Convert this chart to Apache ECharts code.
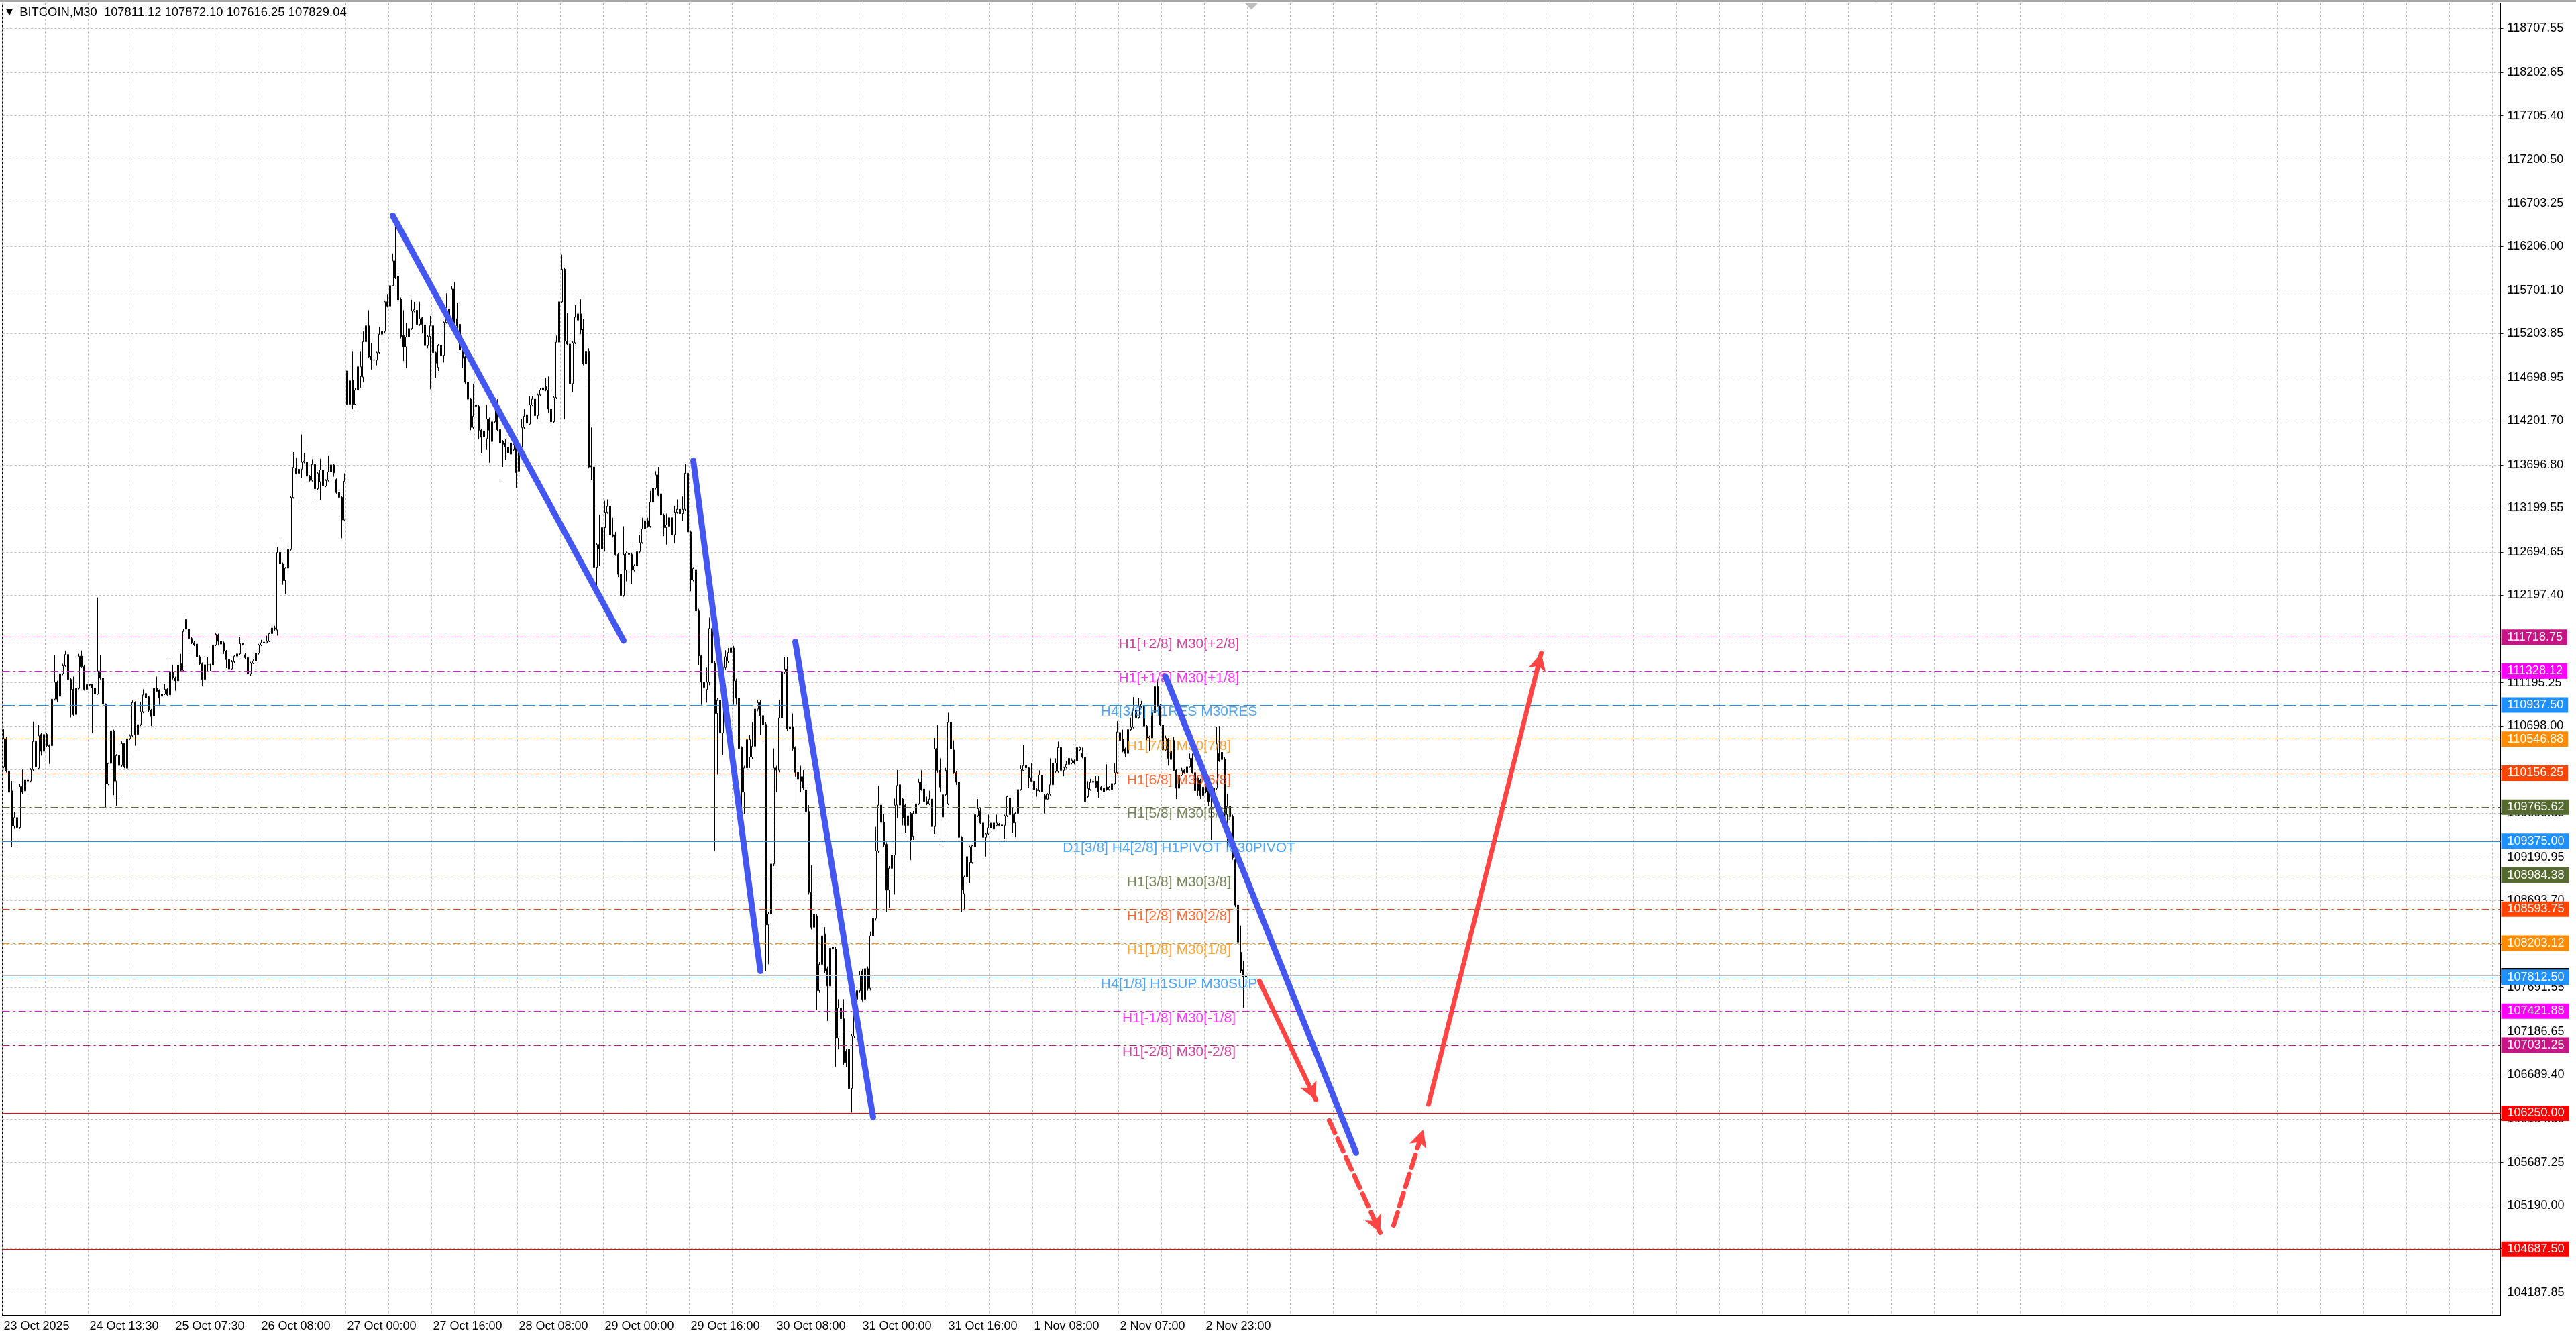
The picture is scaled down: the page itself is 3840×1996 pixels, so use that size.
<!DOCTYPE html>
<html>
<head>
<meta charset="utf-8">
<title>BITCOIN,M30</title>
<script src="https://cdn.jsdelivr.net/npm/echarts@6/dist/echarts.min.js"></script>
<style>
html,body{margin:0;padding:0;background:#fff;}
#chart{width:3840px;height:1996px;}
</style>
</head>
<body>
<div id="chart"></div>
<script>
// time axis labels, one every 32 bars
var timeLabels = ['23 Oct 2025','24 Oct 13:30','25 Oct 07:30','26 Oct 08:00','27 Oct 00:00','27 Oct 16:00',
    '28 Oct 08:00','29 Oct 00:00','29 Oct 16:00','30 Oct 08:00','31 Oct 00:00','31 Oct 16:00',
    '1 Nov 08:00','2 Nov 07:00','2 Nov 23:00'];

// price scale labels
var yTicks = [118707.55,118202.65,117705.40,117200.50,116703.25,116206.00,115701.10,115203.85,
    114698.95,114201.70,113696.80,113199.55,112694.65,112197.40,111700.15,111195.25,110698.00,
    110193.10,109695.85,109190.95,108693.70,108196.45,107691.55,107186.65,106689.40,106184.30,
    105687.25,105190.00,104692.90,104187.85];

// M30 bars: [open, close, low, high]
var candles = [
[110228,110552,110212,110666],[110552,110180,110163,110568],[110180,109937,109920,110196],[109953,109548,109305,110066],
[109548,109645,109515,109710],[109645,109531,109337,109693],[109531,110001,109515,110034],[110001,109937,109920,110196],
[109953,110082,109937,110115],[110082,110066,109888,110115],[110066,110196,110050,110212],[110196,110520,110180,110747],
[110520,110228,110212,110552],[110212,110585,110196,110714],[110601,110406,110358,110617],[110406,110601,110325,110876],
[110601,110471,110455,110617],[110471,110462,110261,110487],[110471,111006,110455,111055],[111006,111201,110990,111508],
[111201,111006,110974,111217],[111038,111298,111022,111330],[111298,111388,111282,111411],[111388,111518,111379,111563],
[111518,111233,111103,111557],[111233,111119,110795,111249],[111119,110828,110812,111265],[110828,111129,110698,111152],
[111129,111499,111119,111525],[111499,111379,111362,111563],[111379,111119,111103,111395],[111119,111175,111103,111201],
[111175,111168,111152,111184],[111175,111136,110617,111184],[111136,111064,111055,111152],[111064,111330,111055,112173],
[111330,111249,111233,111515],[111249,110948,110941,111265],[110948,110034,109758,110957],[110034,110267,110018,110277],
[110267,110643,110261,110682],[110643,110066,109904,110656],[110066,110358,109774,110374],[110358,110244,109904,110374],
[110244,110497,110228,110520],[110497,110228,110212,110504],[110212,110552,110131,110650],[110552,110585,110536,110601],
[110585,110967,110568,110990],[110967,110601,110471,110980],[110601,110714,110439,110731],[110714,110860,110698,110974],
[110860,111055,110844,111119],[111071,111022,111006,111152],[111032,110876,110860,111045],[110876,110805,110698,110893],
[110812,111129,110795,111142],[111129,111097,111087,111265],[111110,111022,110941,111119],[111038,111064,111022,111077],
[111064,111119,111055,111184],[111119,111055,111038,111136],[111055,111314,111045,111476],[111314,111249,111233,111395],
[111249,111217,111103,111265],[111217,111395,111207,111411],[111411,111337,111324,111525],[111337,111784,111330,111816],
[111920,111810,111719,111962],[111810,111703,111541,111823],[111703,111654,111638,111719],[111654,111628,111615,111670],
[111638,111492,111427,111654],[111492,111411,111395,111508],[111411,111233,111152,111427],[111233,111401,111226,111492],
[111401,111395,111330,111492],[111395,111401,111330,111411],[111395,111628,111382,111638],[111628,111751,111615,111768],
[111745,111670,111622,111758],[111670,111638,111628,111687],[111654,111557,111525,111667],[111557,111460,111362,111570],
[111460,111353,111346,111476],[111353,111434,111343,111453],[111434,111499,111421,111508],[111499,111525,111486,111541],
[111525,111644,111508,111719],[111644,111635,111622,111654],[111515,111482,111466,111531],[111482,111298,111282,111499],
[111298,111418,111272,111434],[111418,111443,111408,111460],[111443,111531,111369,111544],[111531,111628,111518,111641],
[111628,111654,111615,111687],[111654,111661,111644,111670],[111654,111670,111644,111735],[111670,111758,111661,111771],
[111758,111823,111748,111871],[111823,111810,111794,111849],[111800,112691,111735,112756],[112691,112562,112545,112821],
[112562,112367,112319,112575],[112367,112510,112212,112523],[112510,112724,112497,112789],[112724,113320,112711,113340],
[113320,113670,113307,113842],[113654,113599,113586,113777],[113599,113647,113275,113664],[113647,113728,113550,114046],
[113728,113741,113715,113826],[113728,113566,113553,113907],[113566,113518,113505,113579],[113518,113702,113505,113761],
[113702,113421,113291,113715],[113421,113599,113408,113612],[113502,113638,113291,113767],[113638,113453,113440,113651],
[113453,113518,113440,113531],[113518,113615,113505,113800],[113615,113696,113602,113735],[113696,113605,113560,113709],
[113528,113378,113365,113540],[113378,113323,113310,113391],[113323,113064,112853,113336],[113064,113508,113051,113599],
[114775,114392,114207,115050],[114392,114661,114256,114791],[114671,114392,114337,115002],[114392,114554,114385,114580],
[114554,114823,114321,115002],[114710,114823,114580,115002],[114703,115109,114645,115228],[115109,115293,115098,115391],
[115293,114937,114920,115472],[114943,114904,114791,115098],[114904,114898,114807,114920],[114898,114985,114839,115002],
[114985,115196,114969,115277],[115196,115228,115147,115277],[115228,115569,115212,115585],[115569,115520,115504,115650],
[115520,115754,115310,115796],[115754,116039,115747,116120],[116039,115845,115829,116428],[115861,115592,115569,115916],
[115601,115170,115147,115618],[115180,115050,114888,115472],[115050,115164,114807,115326],[115164,115261,115083,115277],
[115261,115462,115245,115592],[115462,115478,115449,115569],[115472,115310,115131,115569],[115310,115375,115293,115569],
[115384,115310,115212,115397],[115303,115066,114985,115319],[115066,115170,115034,115189],[115170,115293,114564,115407],
[115293,114985,114499,115407],[114985,114865,114694,115002],[114814,115066,114775,115083],[115066,114953,114937,115228],
[114953,115332,114872,115342],[115332,115504,115319,115666],[115488,115358,115342,115585],[115358,115715,115342,115747],
[115715,115310,115293,115796],[115375,115293,115196,115553],[115310,115018,114904,115326],[115018,114920,114807,115034],
[114937,114645,114629,114953],[114645,114450,114353,114661],[114450,114126,114094,114467],[114126,114256,114110,114629],
[114369,114385,114240,114619],[114369,114094,113996,114385],[114094,114013,113834,114110],[114013,114087,113964,114223],
[113996,114223,113867,114385],[114223,114094,113721,114240],[113964,114191,113948,114223],[114191,114353,114175,114450],
[114353,114100,114087,114450],[114100,113948,113526,114110],[113970,113932,113672,113980],[113948,113899,113753,113996],
[113899,113834,113753,113915],[113818,113948,113786,113996],[113867,113925,113851,113948],[113948,113607,113429,113964],
[113624,113899,113607,113915],[113899,114126,113883,114223],[114126,114256,114110,114337],[114272,114175,114126,114353],
[114165,114385,114152,114483],[114385,114450,114372,114483],[114450,114262,114249,114661],[114262,114499,114223,114515],
[114499,114554,114483,114580],[114554,114580,114541,114612],[114596,114554,114541,114694],[114554,114337,114288,114710],
[114337,114191,114126,114353],[114191,114467,114175,114483],[114467,115105,114450,115180],[115105,115569,114872,115585],
[115569,115942,115553,116110],[115942,115115,114223,115958],[115115,115083,115066,115439],[115083,114629,114499,115098],
[114629,115098,114531,115115],[115098,115391,115083,115537],[115358,115430,115342,115618],[115430,115245,115196,115601],
[115254,114856,114839,115375],[114856,115002,114596,115034],[115002,113672,113656,115034],[113688,113672,113526,114126],
[113672,112521,112262,113688],[112521,112781,112213,112797],[112781,112732,112537,113121],[112732,112975,112716,112991],
[112975,113153,112700,113283],[113153,113218,113137,113299],[113218,112894,112878,113251],[112894,112878,112862,113089],
[112894,112667,112651,112926],[112667,112440,112408,112683],[112440,112197,112051,112456],[112197,112667,112181,112991],
[112489,112683,112359,112700],[112667,112683,112651,112781],[112667,112489,112327,112683],[112489,112537,112473,112554],
[112537,112700,112521,112781],[112700,112803,112683,112894],[112803,112959,112790,113089],[112959,113056,112943,113332],
[113056,112991,112975,113089],[112991,113267,112975,113397],[113267,113429,113251,113559],[113429,113581,113413,113624],
[113581,113348,113332,113672],[113364,113121,113105,113380],[113121,112975,112878,113137],[112975,113007,112781,113137],
[112991,113089,112959,113105],[113089,112894,112732,113105],[112894,113153,112797,113218],[113153,113186,113137,113299],
[113186,113137,113121,113202],[113137,113186,113056,113332],[113186,113601,113170,113705],[113601,112926,112910,113705],
[112926,112375,112246,112943],[112375,112505,112359,112521],[112494,112018,111993,112519],[112018,111502,111392,112043],
[111502,111201,110941,111517],[111201,111141,111091,111442],[111116,111201,110966,111367],[111201,111818,111166,111943],
[111818,111417,111141,111943],[111417,110841,109263,111442],[110841,110991,110140,111016],[110991,110616,110140,111016],
[110616,111367,110365,111392],[111367,111492,111342,111567],[111442,111542,111417,111592],[111542,111592,111517,111818],
[111592,111216,110941,111617],[111216,111016,110941,111241],[111016,110440,110415,111091],[110450,109939,109739,110465],
[109939,110215,109689,110240],[110215,110540,110190,110591],[110340,110540,110215,110591],[110340,110465,110315,110741],
[110465,110891,110440,110991],[110891,110966,110866,110991],[110966,110816,110591,110991],[110816,110716,110490,110841],
[110716,108412,107886,110741],[108412,108537,107961,108562],[108537,109113,108361,109138],[109113,110215,109088,110440],
[110215,110190,109939,110240],[110190,110791,110165,110991],[110791,111317,110766,111642],[111317,111352,111292,111492],
[111352,110666,110641,111492],[110691,110666,110641,110716],[110691,110440,110415,110841],[110450,110165,110115,110465],
[110165,110090,109839,110240],[110115,110065,109939,110240],[110115,109990,109965,110190],[109965,109714,109689,109990],
[109714,108787,108762,109789],[108787,108386,108361,109098],[108537,108386,108236,108562],[108512,107660,107435,108537],
[107660,107961,107635,107986],[107961,108286,107836,108386],[108311,107886,107861,108386],[107911,107711,107310,107936],
[107711,108146,107560,108236],[108136,108161,108111,108261],[108136,107110,106784,108161],[107110,107460,106984,107560],
[107460,107335,107310,107560],[107335,106834,106809,107560],[106959,106834,106784,106984],[106984,106534,106258,107009],
[106534,107135,106258,107160],[107135,107560,107110,107711],[107560,107660,107410,107786],[107660,107836,107635,107886],
[107886,107560,107535,107911],[107560,107911,107410,107936],[107911,107685,107660,107936],[107685,108286,107660,108336],
[108286,108487,108236,108537],[108487,109263,108462,109539],[109263,109789,109238,110014],[109789,109589,109113,109814],
[109589,109338,109313,109689],[109338,108812,108562,109363],[108812,109063,108612,109088],[109063,109213,109038,109313],
[109213,109789,108762,109864],[109789,110014,109639,110190],[110023,109789,109473,110092],[109858,109644,109556,109872],
[109789,109556,109473,109803],[109556,109666,109542,109803],[109693,109390,109156,109707],[109432,109693,109390,109721],
[109693,109803,109679,109899],[109803,110051,109789,110092],[110051,109968,109955,110188],[109974,109831,109776,109982],
[109831,109803,109789,109886],[109803,109858,109789,109955],[109858,109542,109528,109872],[109542,110436,109459,110560],
[110441,110188,110161,110711],[110188,109996,109941,110326],[109652,109908,109335,110257],[109908,110188,109899,110216],
[109803,110739,109789,110850],[110739,110436,110188,111110],[110422,110161,110147,110532],[110161,110051,110020,110175],
[110051,109418,109390,110133],[109418,108813,108565,109432],[108771,108964,108579,108978],[108964,109198,108950,109308],
[109129,109308,108895,109322],[109129,109322,109115,109335],[109308,109679,109294,109858],[109666,109748,109652,109858],
[109721,109583,109569,109762],[109583,109418,109363,109721],[109418,109459,109198,109473],[109459,109528,109445,109679],
[109528,109583,109514,109666],[109514,109583,109500,109597],[109556,109583,109542,109679],[109569,109556,109542,109583],
[109550,109561,109349,109569],[109556,109666,109404,109679],[109666,109886,109652,109899],[109872,109679,109666,109996],
[109679,109583,109473,109762],[109583,109693,109418,109707],[109693,109968,109679,110051],[109968,110202,109955,110243],
[110188,110243,110175,110477],[110243,110216,110202,110353],[110216,110106,109982,110230],[110106,110065,110051,110271],
[110065,109968,109955,110120],[109968,109955,109886,109982],[109955,110133,109941,110188],[110133,109941,109927,110188],
[109899,109858,109693,109913],[109858,109913,109844,109927],[109913,110023,109899,110326],[110023,110271,110010,110285],
[110175,110271,110161,110326],[110175,110450,110161,110518],[110450,110188,110175,110477],[110188,110221,110120,110230],
[110221,110257,110210,110298],[110257,110326,110243,110353],[110271,110304,110257,110326],[110298,110271,110257,110312],
[110298,110450,110285,110491],[110422,110450,110408,110463],[110381,110340,110326,110450],[110340,109831,109817,110395],
[109886,109982,109872,110065],[109968,110051,109955,110092],[110051,110065,110037,110078],[110065,109996,109982,110120],
[110065,109941,109872,110120],[109996,109968,109955,110010],[109941,109982,109858,109996],[109996,109968,109955,110257],
[109968,109996,109955,110010],[109968,110037,109955,110078],[110037,110161,110023,110271],[110161,110629,110147,110752],
[110623,110532,110518,110684],[110546,110408,110395,110656],[110436,110381,110340,110450],[110381,110656,110367,110670],
[110656,110684,110642,110794],[110684,110876,110670,111028],[110876,110794,110780,110986],[110794,110931,110780,111014],
[110917,110945,110904,110986],[110931,110697,110656,110945],[110697,110560,110532,110711],[110560,110574,110408,110587],
[110560,110849,110546,110890],[110849,111151,110835,111206],[111151,110931,110917,111234],[110931,110711,110697,110945],
[110711,110422,110188,110725],[110422,110560,110408,110587],[110546,110326,110243,110560],[110312,110408,110298,110532],
[110532,110188,110175,110574],[110188,109982,109858,110202],[109982,110133,109776,110147],[110133,110188,110120,110216],
[110188,110161,110147,110202],[110161,110230,110147,110271],[110230,110326,110216,110381],[110326,110161,110147,110381],
[110161,109955,109941,110298],[110106,109955,109899,110120],[110078,109899,109858,110092],[109899,109996,109886,110010],
[109996,109941,109927,110010],[109955,109831,109776,109968],[109982,109941,109390,109996],[109886,109982,109776,109996],
[109982,110491,109968,110684],[110381,110298,110285,110697],[110395,110312,110298,110697],[110316,109679,109632,110340],
[109679,109773,109302,109915],[109773,109655,109600,109800],[109655,109184,109160,109679],[109160,108641,108617,109184],
[108641,108216,108193,109056],[108098,107886,107863,108405],[107896,107816,107462,108004],[107811.12,107829.04,107616.25,107872.10]
];

// Murrey / pivot levels drawn as horizontal lines
var levelValues = [111718.75,111328.12,110937.50,110546.88,110156.25,109765.62,109375.00,
    108984.38,108593.75,108203.12,107812.50,107421.88,107031.25];
var levelNames = ['H1[+2/8] M30[+2/8]','H1[+1/8] M30[+1/8]','H4[3/8] H1RES M30RES','H1[7/8] M30[7/8]',
    'H1[6/8] M30[6/8]','H1[5/8] M30[5/8]','D1[3/8] H4[2/8] H1PIVOT M30PIVOT','H1[3/8] M30[3/8]',
    'H1[2/8] M30[2/8]','H1[1/8] M30[1/8]','H4[1/8] H1SUP M30SUP','H1[-1/8] M30[-1/8]','H1[-2/8] M30[-2/8]'];
var redLevels = [106250.00, 104687.50];

// drawn objects, as [bar index, price] end points
var trendLines = [
    [[145, 116558], [231, 111678]],
    [[256.5, 113746], [281.5, 107884]],
    [[295.25, 111666], [324.25, 106204]],
    [[432.5, 111265], [503.5, 105796]]
];
var arrowLines = [
    [[467.75, 107768], [488.9, 106404]],
    [[493.5, 106166], [513, 104879]],
    [[517.5, 104964], [529.1, 106062]],
    [[531.4, 106354], [572.5, 111535]]
];
var arrowDashed = [false, true, true, false];
var shiftBar = 464.5;    // chart shift marker on the top edge

// styles
var levelColors = ['#C71585','#FF00FF','#1E90FF','#FF8C00','#FF4500','#556B2F','#1E90FF',
    '#556B2F','#FF4500','#FF8C00','#1E90FF','#FF00FF','#C71585'];
var DASHDOT = [11, 5, 3, 5], LONGDASH = [19, 6];
var levelDash = [DASHDOT, DASHDOT, LONGDASH, DASHDOT, DASHDOT, DASHDOT, 'solid',
    DASHDOT, DASHDOT, DASHDOT, LONGDASH, DASHDOT, DASHDOT];
var slotCount = 931;     // bar slots across the plot
var labelStep = 32;      // bars between time labels
var textIndex = 438;     // bar where the level names are centred
var Y_MIN = 103931, Y_MAX = 119000;
var FONT = '"Liberation Sans", Arial, sans-serif';

var chart = echarts.init(document.getElementById('chart'));

var cats = [];
for (var i = 0; i < slotCount; i++) cats.push(String(i));

var last = candles[candles.length - 1];
function f2(v){ return Number(v).toFixed(2); }

function badge(value, bg){
    return {
        show: true, position: 'end', distance: 1,
        formatter: f2(value),
        color: '#fff', backgroundColor: bg,
        fontSize: 18, fontFamily: FONT, lineHeight: 18,
        padding: [3, 7, 2, 9]
    };
}

// level lines with price badges on the axis
var levelMarks = [{
    yAxis: last[1],
    lineStyle: {color: '#C0C0C0', type: 'solid', width: 1},
    label: badge(last[1], '#000')
}];
levelValues.forEach(function(v, k){
    levelMarks.push({
        yAxis: v,
        lineStyle: {color: levelColors[k], type: levelDash[k], width: 1},
        label: badge(v, levelColors[k])
    });
});
redLevels.forEach(function(v){
    levelMarks.push({
        yAxis: v,
        lineStyle: {color: '#FF0000', type: 'solid', width: 1},
        label: badge(v, '#FF0000')
    });
});

var series = [];

series.push({
    type: 'candlestick',
    data: candles,
    barWidth: 2,
    z: 2,
    itemStyle: {color: '#fff', color0: '#000', borderColor: '#000', borderColor0: '#000', borderWidth: 1},
    markLine: {
        silent: true, symbol: 'none', z: 1, animation: false,
        label: {show: false},
        lineStyle: {color: '#C0C0C0', type: [3, 3], width: 1},
        data: yTicks.map(function(v){ return {yAxis: v}; })
    },
    markPoint: {
        silent: true, animation: false,
        symbol: 'triangle', symbolRotate: 180, symbolSize: [20, 10], symbolOffset: [0, 5],
        itemStyle: {color: '#BEBEBE'},
        label: {show: false},
        data: [{coord: [shiftBar, Y_MAX]}]
    }
});

// level names in the chart and the level lines
series.push({
    type: 'scatter',
    symbolSize: 0,
    silent: true,
    z: 4,
    data: levelValues.map(function(v, k){
        return {value: [textIndex, v], label: {color: levelColors[k]}};
    }),
    label: {
        show: true, position: 'bottom', distance: 0,
        fontSize: 21, fontFamily: FONT,
        formatter: function(p){ return levelNames[p.dataIndex]; }
    },
    markLine: {
        silent: true, symbol: 'none', z: 3, animation: false,
        data: levelMarks
    }
});

trendLines.forEach(function(seg){
    series.push({
        type: 'line', data: seg, symbol: 'none', silent: true, z: 6,
        lineStyle: {color: '#4457F0', width: 9, cap: 'round'}
    });
});

arrowLines.forEach(function(seg, k){
    series.push({
        type: 'line', data: seg, symbol: 'none', silent: true, z: 6,
        lineStyle: {opacity: 0},
        markLine: {
            silent: true, z: 6, animation: false,
            symbol: ['none', 'arrow'], symbolSize: [20, 26],
            label: {show: false},
            lineStyle: {color: '#FF4444', width: 7, type: arrowDashed[k] ? [20, 10] : 'solid', cap: 'round'},
            data: [[{coord: seg[0]}, {coord: seg[1]}]]
        }
    });
});

chart.setOption({
    animation: false,
    backgroundColor: '#fff',
    graphic: [{
        type: 'rect', silent: true, z: 0,
        shape: {x: 0, y: 0, width: 3840, height: 3},
        style: {fill: '#A8A8A8'}
    }],
    title: {
        text: '{t|▼}  BITCOIN,M30  ' + [last[0], last[3], last[2], last[1]].map(f2).join(' '),
        left: 9, top: 10, padding: 0,
        textStyle: {
            fontSize: 18.4, fontWeight: 'normal', fontFamily: FONT, color: '#000',
            rich: {t: {fontSize: 13, color: '#000', fontFamily: 'DejaVu Sans'}}
        }
    },
    grid: {left: 3.5, right: 112.5, top: 4.5, bottom: 35.5, show: true, borderColor: '#000', borderWidth: 1, backgroundColor: '#fff'},
    xAxis: {
        type: 'category',
        data: cats,
        boundaryGap: true,
        axisLine: {show: true, lineStyle: {color: '#000', width: 1}},
        axisTick: {show: false},
        axisLabel: {
            interval: labelStep - 1, align: 'left', margin: 8,
            fontSize: 18, fontFamily: FONT, color: '#000',
            formatter: function(v, idx){ return timeLabels[idx / labelStep] || ''; }
        },
        splitLine: {show: true, interval: 15, lineStyle: {color: '#C0C0C0', type: [3, 3], width: 1}}
    },
    yAxis: {
        type: 'value',
        position: 'right',
        min: Y_MIN,
        max: Y_MAX,
        scale: true,
        axisLine: {show: true, lineStyle: {color: '#000', width: 1}},
        axisTick: {show: true, length: 4, customValues: yTicks, lineStyle: {color: '#000'}},
        axisLabel: {
            customValues: yTicks, margin: 10, align: 'left',
            fontSize: 18, fontFamily: FONT, color: '#000',
            formatter: function(v){ return f2(v); }
        },
        splitLine: {show: false}
    },
    series: series
});
</script>
</body>
</html>
